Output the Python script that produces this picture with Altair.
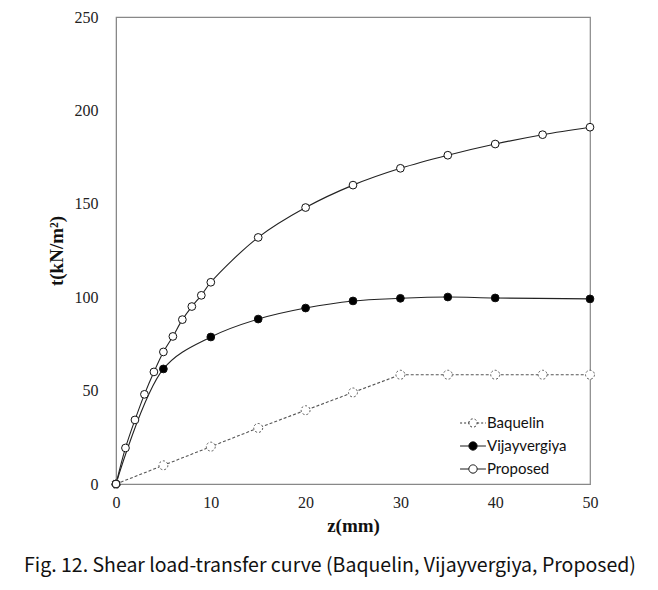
import altair as alt
import pandas as pd

series_order = ["Baquelin", "Vijayvergiya", "Proposed"]

baq_z = [0, 5, 10, 15, 20, 25, 30, 35, 40, 45, 50]
baq_t = [0, 10, 20, 30, 39.5, 49, 58.5, 58.5, 58.5, 58.5, 58.5]

vij_z = [0, 5, 10, 15, 20, 25, 30, 35, 40, 50]
vij_t = [0, 61.6, 78.7, 88.3, 94.2, 98, 99.4, 100.1, 99.6, 99.1]

pro_z = [0, 1, 2, 3, 4, 5, 6, 7, 8, 9, 10, 15, 20, 25, 30, 35, 40, 45, 50]
pro_t = [0, 19.3, 34.3, 48, 60, 70.7, 79, 88, 95, 101, 108, 132, 148, 160, 169, 176, 182, 187, 191]

rows = []
for name, zs, ts in [("Baquelin", baq_z, baq_t), ("Vijayvergiya", vij_z, vij_t), ("Proposed", pro_z, pro_t)]:
    for z, t in zip(zs, ts):
        rows.append({"series": name, "z": z, "t": t})
df = pd.DataFrame(rows)

x = alt.X("z:Q", scale=alt.Scale(domain=[0, 50], nice=False, padding=0, zero=True),
          axis=alt.Axis(title="z(mm)", values=[0, 10, 20, 30, 40, 50], ticks=False, grid=False,
                        labelFlush=False, labelPadding=10, titlePadding=6))
y = alt.Y("t:Q", scale=alt.Scale(domain=[0, 250], nice=False, padding=0, zero=True),
          axis=alt.Axis(title="t(kN/m²)", values=[0, 50, 100, 150, 200, 250], ticks=False, grid=False,
                        labelFlush=False, labelPadding=18, titlePadding=8))

base = alt.Chart(df)

smooth = base.transform_filter(alt.datum.series != "Baquelin").mark_line(
    interpolate="catmull-rom", color="#222", strokeWidth=1.1
).encode(x=x, y=y, detail="series:N")

dashed = base.transform_filter(alt.datum.series == "Baquelin").mark_line(
    color="#555", strokeWidth=1.1, strokeDash=[3, 2]
).encode(x=x, y=y)

pts_solid = base.transform_filter(alt.datum.series != "Baquelin").mark_point(
    shape="circle", filled=True, size=60, stroke="#111", strokeWidth=1, opacity=1
).encode(
    x=x, y=y,
    fill=alt.condition(alt.datum.series == "Vijayvergiya", alt.value("black"), alt.value("white")),
)

pts_dash = base.transform_filter(alt.datum.series == "Baquelin").mark_point(
    shape="circle", filled=True, fill="white", size=80, stroke="#555", strokeWidth=1,
    strokeDash=[2, 2], opacity=1
).encode(x=x, y=y)

legend_path = "M-1.4,0 L-0.45,0 M0.45,0 L1.4,0 M-0.45,0 A0.45,0.45 0 1 1 0.45,0 A0.45,0.45 0 1 1 -0.45,0 Z"

leg = dict(title=None, orient="none", legendX=347, legendY=396, padding=0,
           symbolSize=340, symbolStrokeWidth=1, symbolOpacity=1,
           labelFont="Lato", labelFontSize=15, labelColor="#111",
           rowPadding=5, labelOffset=4)

legend_layer = base.transform_filter("false").mark_point(
    shape=legend_path, filled=False, strokeWidth=1, opacity=1
).encode(
    x=x, y=y,
    color=alt.Color("series:N", scale=alt.Scale(domain=series_order, range=["#333", "#111", "#111"]),
                    legend=alt.Legend(**leg)),
    fill=alt.Fill("series:N", scale=alt.Scale(domain=series_order, range=["white", "black", "white"]),
                  legend=alt.Legend(**leg)),
    strokeDash=alt.StrokeDash("series:N", scale=alt.Scale(domain=series_order, range=[[2, 2], [1, 0], [1, 0]]),
                              legend=alt.Legend(**leg)),
)

chart = alt.layer(dashed, smooth, pts_dash, pts_solid, legend_layer).properties(
    width=474, height=467,
    autosize=alt.AutoSizeParams(type="none"),
    padding={"left": 108, "top": 9, "right": 60, "bottom": 98},
    title=alt.TitleParams(
        "Fig. 12. Shear load-transfer curve (Baquelin, Vijayvergiya, Proposed)",
        orient="bottom", anchor="middle", fontSize=19.5, fontWeight="normal",
        font="Noto Sans CJK KR", color="#111", offset=22, dx=-23,
    ),
).configure_view(stroke="#888", strokeWidth=1.2).configure_axis(
    domainColor="#888", labelFont="Liberation Serif", labelFontSize=16, labelColor="#222",
    titleFont="Liberation Serif", titleFontSize=19, titleFontWeight="bold", titleColor="#111",
)

chart.save("out.html", embed_options={"renderer": "svg", "actions": False})
